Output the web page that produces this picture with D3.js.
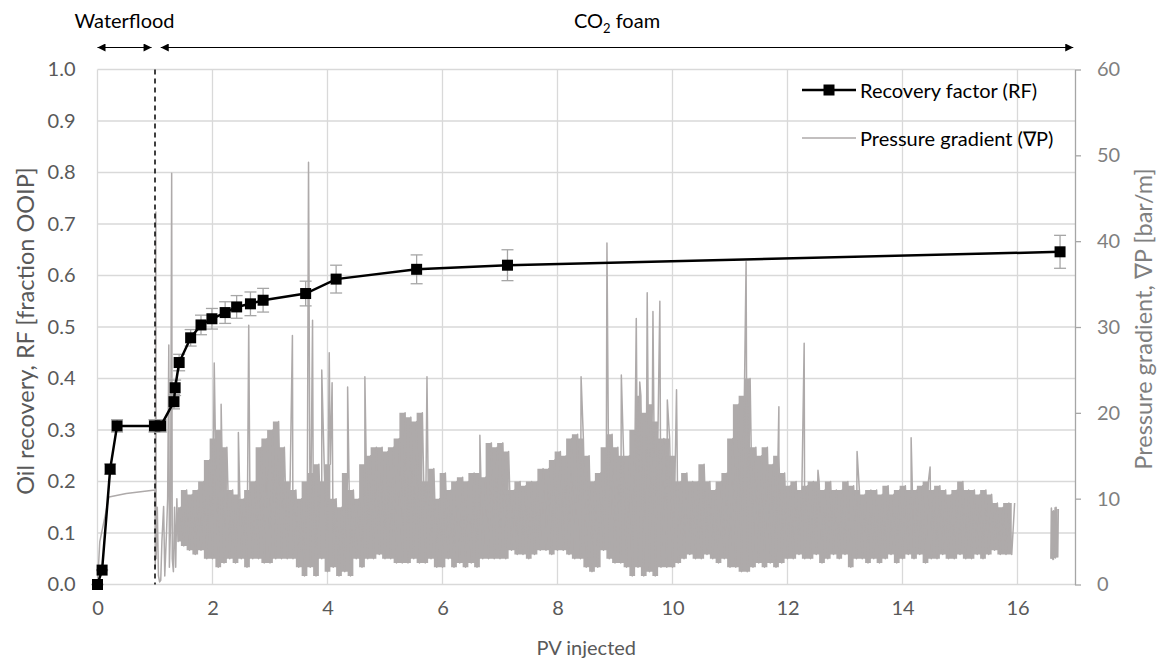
<!DOCTYPE html>
<html>
<head>
<meta charset="utf-8">
<script src="https://cdn.jsdelivr.net/npm/d3@7"></script>
<style>
  body { margin: 0; background: #fff; }
  svg text { font-family: Lato, "Open Sans", sans-serif; }
</style>
</head>
<body>
<div id="chart"></div>
<script>
// Recovery factor measurements (PV injected, fraction OOIP, error bar half-width)
const rfPV  = [0, 0.08, 0.22, 0.34, 0.99, 1.10, 1.33, 1.35, 1.42, 1.62, 1.80, 1.99, 2.22, 2.42, 2.66, 2.88, 3.62, 4.15, 5.55, 7.13, 16.74];
const rfVal = [0, 0.028, 0.224, 0.308, 0.308, 0.308, 0.355, 0.382, 0.431, 0.479, 0.504, 0.516, 0.528, 0.539, 0.545, 0.552, 0.565, 0.593, 0.612, 0.620, 0.646];
const rfErr = [0, 0.001, 0.010, 0.012, 0.012, 0.012, 0.014, 0.015, 0.016, 0.016, 0.019, 0.020, 0.021, 0.022, 0.023, 0.023, 0.024, 0.027, 0.028, 0.030, 0.032];

// Pressure gradient trace: waterflood + foam start, read point by point
const earlyPV = [0, 0.04, 0.2, 0.5, 1.0, 1.005, 1.015, 1.02, 1.04, 1.06, 1.08, 1.1, 1.12, 1.15, 1.17, 1.2, 1.22, 1.24, 1.25, 1.27, 1.29, 1.3, 1.32, 1.34, 1.36, 1.38];
const earlyDP = [0, 5, 10.2, 10.6, 11.0, 2, 43.4, 3, 9, 1, 0.3, 0.5, 5, 9.1, 1, 6, 10, 27.9, 2, 7, 47.9, 3, 1.5, 9, 2, 10];

// Foam period: noisy band read as low / high per 0.1 PV
const bandPV = [
  1.4, 1.5, 1.6, 1.7, 1.8, 1.9,
  2.0, 2.1, 2.2, 2.3, 2.4, 2.5, 2.6, 2.7, 2.8, 2.9,
  3.0, 3.1, 3.2, 3.3, 3.4, 3.5, 3.6, 3.7, 3.8, 3.9,
  4.0, 4.1, 4.2, 4.3, 4.4, 4.5, 4.6, 4.7, 4.8, 4.9,
  5.0, 5.1, 5.2, 5.3, 5.4, 5.5, 5.6, 5.7, 5.8, 5.9,
  6.0, 6.1, 6.2, 6.3, 6.4, 6.5, 6.6, 6.7, 6.8, 6.9,
  7.0, 7.1, 7.2, 7.3, 7.4, 7.5, 7.6, 7.7, 7.8, 7.9,
  8.0, 8.1, 8.2, 8.3, 8.4, 8.5, 8.6, 8.7, 8.8, 8.9,
  9.0, 9.1, 9.2, 9.3, 9.4, 9.5, 9.6, 9.7, 9.8, 9.9,
  10.0, 10.1, 10.2, 10.3, 10.4, 10.5, 10.6, 10.7, 10.8, 10.9,
  11.0, 11.1, 11.2, 11.3, 11.4, 11.5, 11.6, 11.7, 11.8, 11.9,
  12.0, 12.1, 12.2, 12.3, 12.4, 12.5, 12.6, 12.7, 12.8, 12.9,
  13.0, 13.1, 13.2, 13.3, 13.4, 13.5, 13.6, 13.7, 13.8, 13.9,
  14.0, 14.1, 14.2, 14.3, 14.4, 14.5, 14.6, 14.7, 14.8, 14.9,
  15.0, 15.1, 15.2, 15.3, 15.4, 15.5, 15.6, 15.7, 15.8, 15.9
];
const bandLo = [
  5, 4.5, 4, 3.5, 4, 3,
  3, 2, 2.5, 3, 2.5, 3, 2, 3, 3, 2.5,
  2.5, 3, 3, 3, 3, 2, 1, 2, 1, 3,
  1.5, 2, 1, 1.5, 1, 3, 2, 3, 3, 3.5,
  3, 3, 2.5, 2.5, 2.5, 3, 2.5, 2.5, 3, 2,
  2, 3, 2, 2.5, 2, 2.5, 2, 3, 3, 3,
  3, 3, 4, 3.5, 3.5, 3, 3.5, 4, 4, 3.5,
  4, 4, 3.5, 3, 3, 2, 1.5, 2, 4, 3,
  2.5, 2.5, 2, 1, 2, 1, 1.5, 1, 2, 2,
  2, 2.5, 3, 3.5, 3, 3, 3.5, 3, 2.5, 3,
  2, 2, 1.5, 1.5, 2, 2.5, 2, 2.5, 2, 2.5,
  3, 3, 3.5, 3, 3, 3.5, 2.5, 3, 3.5, 3,
  3.5, 2, 3, 3, 2.5, 3, 2.5, 3, 3.5, 2.5,
  3, 3.5, 3, 3.5, 2.5, 3, 3, 3.5, 3, 3,
  3.5, 3, 3, 3.5, 3, 3.5, 4, 3.5, 3.5, 3.5
];
const bandHi = [
  9, 11, 10.5, 11, 12, 14.5,
  17, 18, 16, 11, 10.5, 10, 11, 12, 16, 17,
  18, 19, 16, 12, 11, 10, 12, 13, 14, 12,
  14, 10, 9, 13, 11, 10, 14, 15, 16, 16,
  15.5, 16, 17, 20, 19.5, 19, 20, 12, 13.5, 10,
  13, 11, 12, 12.5, 12, 13, 13, 12.5, 16.5, 16,
  16.5, 15.5, 11, 12, 11.5, 12, 12, 13.5, 13.5, 14.5,
  15.5, 15, 17, 17.5, 17, 15, 12, 13, 16, 17.5,
  16, 15, 15, 18, 22, 20, 21, 19, 17, 17,
  15, 12, 13, 12, 12, 14, 12, 11, 12, 13,
  17, 21, 22, 24, 16, 15, 16, 14, 15, 13,
  11.5, 12, 11, 11.5, 12, 12, 11, 12, 11, 11,
  12, 11.5, 11, 10.5, 11, 11, 10.5, 11.5, 10.5, 11,
  11.5, 11, 11, 11.5, 12, 11, 11.5, 11, 10.5, 11,
  12, 11, 11, 10.5, 11, 10.5, 9.5, 9, 9.5, 9.5
];

// Isolated pressure spikes
const spikePV = [2.03, 2.15, 2.45, 2.63, 3.39, 3.67, 3.74, 3.9, 4.03, 4.08, 4.35, 4.65, 5.73, 6.65, 8.41, 8.86, 9.11, 9.37, 9.43, 9.56, 9.66, 9.78, 9.91, 10.07, 11.28, 11.85, 12.29, 12.53, 13.21, 14.15, 14.48];
const spikeDP = [25.8, 21, 17.7, 30.2, 29, 49.2, 30.8, 25, 27, 23.5, 23, 24.2, 24.2, 17.4, 24.2, 39.8, 24.4, 31, 23.6, 34, 31.8, 33, 21.5, 22.7, 37.6, 20.7, 28.1, 13.3, 15.5, 17.1, 13.7];

// Last short recording near 16.7 PV (low / high)
const tailPV = [16.58, 16.62, 16.66, 16.7];
const tailLo = [3, 2.9, 3.1, 3.2];
const tailHi = [8.9, 8.6, 9, 8.8];

const phases = [
  {label: "Waterflood", from: 0, to: 0.94},
  {label: "CO2 foam", from: 1.1, to: 16.97}
];
const xTicks = [0, 2, 4, 6, 8, 10, 12, 14, 16];
const yLeftTicks = [0, 0.1, 0.2, 0.3, 0.4, 0.5, 0.6, 0.7, 0.8, 0.9, 1.0];
const yRightTicks = [0, 10, 20, 30, 40, 50, 60];

const width = 1166, height = 663;
const plot = {left: 97.5, right: 1075, top: 69.5, bottom: 584.5};

const svg = d3.select("#chart").append("svg")
    .attr("width", width)
    .attr("height", height);

const x = d3.scaleLinear().domain([0, 17]).range([plot.left, plot.right]);
const yL = d3.scaleLinear().domain([0, 1]).range([plot.bottom, plot.top]);
const yR = d3.scaleLinear().domain([0, 60]).range([plot.bottom, plot.top]);

const gridColor = "#d9d9d9";
const greyTrace = "#aeaaaa";

// gridlines
svg.append("g")
    .selectAll("line")
    .data(yLeftTicks)
    .enter().append("line")
        .attr("x1", plot.left).attr("x2", plot.right)
        .attr("y1", d => yL(d)).attr("y2", d => yL(d))
        .attr("stroke", gridColor).attr("stroke-width", 1.3);
svg.append("g")
    .selectAll("line")
    .data(xTicks)
    .enter().append("line")
        .attr("x1", d => x(d)).attr("x2", d => x(d))
        .attr("y1", plot.top).attr("y2", plot.bottom)
        .attr("stroke", gridColor).attr("stroke-width", 1.3);

// axes
const leftAxis = svg.append("g")
    .attr("transform", `translate(${plot.left},0)`)
    .call(d3.axisLeft(yL).tickValues(yLeftTicks).tickFormat(d3.format(".1f")).tickSize(0).tickPadding(22));
leftAxis.select(".domain").remove();
leftAxis.selectAll("text").attr("fill", "#595959").style("font-size", "20px");

const bottomAxis = svg.append("g")
    .attr("transform", `translate(0,${plot.bottom})`)
    .call(d3.axisBottom(x).tickValues(xTicks).tickSize(0).tickPadding(16));
bottomAxis.select(".domain").remove();
bottomAxis.selectAll("text").attr("fill", "#595959").style("font-size", "20px");

const rightAxis = svg.append("g")
    .attr("transform", `translate(${plot.right},0)`)
    .call(d3.axisRight(yR).tickValues(yRightTicks).tickSizeInner(6).tickSizeOuter(0).tickPadding(16));
rightAxis.select(".domain").attr("stroke", "#a6a6a6").attr("stroke-width", 1.3);
rightAxis.selectAll(".tick line").attr("stroke", "#a6a6a6").attr("stroke-width", 1.3);
rightAxis.selectAll("text").attr("fill", "#7f7f7f").style("font-size", "20px");

// axis titles
svg.append("text")
    .attr("transform", `translate(25,${(plot.top + plot.bottom) / 2 + 4}) rotate(-90)`)
    .attr("text-anchor", "middle")
    .attr("dominant-baseline", "central")
    .attr("fill", "#595959")
    .style("font-size", "23.5px")
    .text("Oil recovery, RF [fraction OOIP]");
svg.append("text")
    .attr("transform", `translate(1143,${(plot.top + plot.bottom) / 2 - 8}) rotate(-90)`)
    .attr("text-anchor", "middle")
    .attr("dominant-baseline", "central")
    .attr("fill", "#7f7f7f")
    .style("font-size", "23.5px")
    .text("Pressure gradient, \u2207P [bar/m]");
svg.append("text")
    .attr("x", (plot.left + plot.right) / 2)
    .attr("y", 655)
    .attr("text-anchor", "middle")
    .attr("fill", "#595959")
    .style("font-size", "20px")
    .text("PV injected");

// pressure gradient: dense band core, then the trace on top
const band = bandPV.map((pv, i) => ({pv: pv, lo: bandLo[i], hi: bandHi[i]}));
const tail = tailPV.map((pv, i) => ({pv: pv, lo: tailLo[i], hi: tailHi[i]}));
const bandArea = d3.area()
    .curve(d3.curveStep)
    .x(d => x(d.pv))
    .y0(d => yR(d.lo))
    .y1(d => yR(d.hi));
svg.selectAll(".pband")
    .data([band, tail])
    .enter().append("path")
        .attr("class", "pband")
        .attr("fill", greyTrace)
        .attr("d", bandArea);

const traceA = earlyPV.map((pv, i) => [pv, earlyDP[i]]);
bandPV.forEach((pv, i) => {
    traceA.push([pv, bandLo[i]]);
    traceA.push([pv + 0.05, bandHi[i]]);
});
spikePV.forEach((pv, i) => traceA.push([pv, spikeDP[i]]));
traceA.sort((a, b) => a[0] - b[0]);
const traceB = [];
tailPV.forEach((pv, i) => {
    traceB.push([pv, tailLo[i]]);
    traceB.push([pv + 0.01, tailHi[i]]);
});

const pLine = d3.line()
    .x(d => x(d[0]))
    .y(d => yR(d[1]));

svg.selectAll(".ptrace")
    .data([traceA, traceB])
    .enter().append("path")
        .attr("class", "ptrace")
        .attr("fill", "none")
        .attr("stroke", greyTrace)
        .attr("stroke-width", 1.5)
        .attr("stroke-linejoin", "round")
        .attr("d", pLine);

// waterflood / foam boundary
svg.append("line")
    .attr("x1", x(1)).attr("x2", x(1))
    .attr("y1", plot.top).attr("y2", plot.bottom)
    .attr("stroke", "#000").attr("stroke-width", 1.5)
    .attr("stroke-dasharray", "5,4");

// recovery factor: error bars, line, markers
const rf = rfPV.map((pv, i) => ({pv: pv, v: rfVal[i], e: rfErr[i]}));
const eb = svg.append("g").attr("stroke", "#a6a6a6").attr("stroke-width", 1.3);
eb.selectAll(".ebv").data(rf).enter().append("line")
    .attr("x1", d => x(d.pv)).attr("x2", d => x(d.pv))
    .attr("y1", d => yL(d.v - d.e)).attr("y2", d => yL(d.v + d.e));
eb.selectAll(".ebt").data(rf).enter().append("line")
    .attr("x1", d => x(d.pv) - 6).attr("x2", d => x(d.pv) + 6)
    .attr("y1", d => yL(d.v + d.e)).attr("y2", d => yL(d.v + d.e));
eb.selectAll(".ebb").data(rf).enter().append("line")
    .attr("x1", d => x(d.pv) - 6).attr("x2", d => x(d.pv) + 6)
    .attr("y1", d => yL(d.v - d.e)).attr("y2", d => yL(d.v - d.e));

svg.append("path")
    .datum(rf)
    .attr("fill", "none")
    .attr("stroke", "#000")
    .attr("stroke-width", 2.5)
    .attr("d", d3.line().x(d => x(d.pv)).y(d => yL(d.v)));

const ms = 11;
svg.selectAll(".rfmark")
    .data(rf)
    .enter().append("rect")
        .attr("x", d => x(d.pv) - ms / 2)
        .attr("y", d => yL(d.v) - ms / 2)
        .attr("width", ms).attr("height", ms)
        .attr("fill", "#000");

// legend
const legend = svg.append("g");
legend.append("line")
    .attr("x1", 802).attr("x2", 856).attr("y1", 90).attr("y2", 90)
    .attr("stroke", "#000").attr("stroke-width", 2.5);
legend.append("rect")
    .attr("x", 829 - ms / 2).attr("y", 90 - ms / 2)
    .attr("width", ms).attr("height", ms).attr("fill", "#000");
legend.append("text")
    .attr("x", 860).attr("y", 90)
    .attr("dominant-baseline", "central")
    .style("font-size", "20px")
    .text("Recovery factor (RF)");
legend.append("line")
    .attr("x1", 802).attr("x2", 856).attr("y1", 138).attr("y2", 138)
    .attr("stroke", greyTrace).attr("stroke-width", 1.5);
legend.append("text")
    .attr("x", 860).attr("y", 138)
    .attr("dominant-baseline", "central")
    .style("font-size", "20px")
    .text("Pressure gradient (\u2207P)");

// phase arrows on top
svg.append("defs").selectAll("marker")
    .data(["arrowEnd", "arrowStart"])
    .enter().append("marker")
        .attr("id", d => d)
        .attr("viewBox", "0 0 10 10")
        .attr("refX", 10).attr("refY", 5)
        .attr("markerWidth", 10).attr("markerHeight", 8)
        .attr("markerUnits", "userSpaceOnUse")
        .attr("orient", d => d === "arrowEnd" ? "auto" : "auto-start-reverse")
        .append("path")
            .attr("d", "M0,0 L10,5 L0,10 Z")
            .attr("fill", "#000");

const arrowY = 47.5;
const ph = svg.append("g");
ph.selectAll("line")
    .data(phases)
    .enter().append("line")
        .attr("x1", d => x(d.from)).attr("x2", d => x(d.to))
        .attr("y1", arrowY).attr("y2", arrowY)
        .attr("stroke", "#000").attr("stroke-width", 1)
        .attr("marker-start", "url(#arrowStart)")
        .attr("marker-end", "url(#arrowEnd)");

ph.selectAll("text")
    .data(phases)
    .enter().append("text")
        .attr("x", d => x((d.from + d.to) / 2))
        .attr("y", 28)
        .attr("text-anchor", "middle")
        .style("font-size", "20px")
        .each(function(d) {
            const t = d3.select(this);
            if (d.label === "CO2 foam") {
                t.append("tspan").text("CO");
                t.append("tspan").attr("dy", 5).style("font-size", "13px").text("2");
                t.append("tspan").attr("dy", -5).text(" foam");
            } else {
                t.text(d.label);
            }
        });
</script>
</body>
</html>
